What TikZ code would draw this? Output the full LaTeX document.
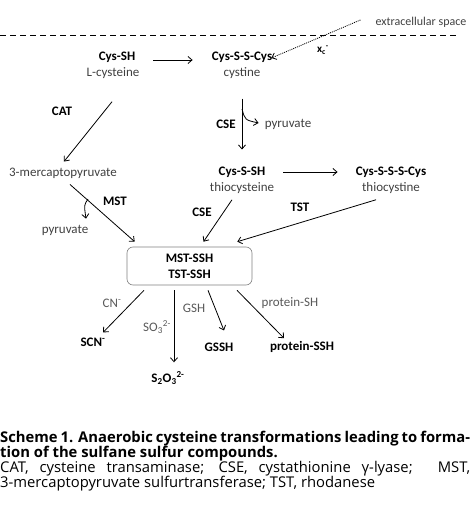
\documentclass[tikz,border=0pt]{standalone}
\usepackage{fontspec}
\setmainfont{Carlito}
\newfontfamily\capfont{Open Sans}
\usetikzlibrary{arrows.meta,calc}
\definecolor{txtgray}{HTML}{404040}
\definecolor{lblgray}{HTML}{595959}
\definecolor{boxgray}{HTML}{808080}
\begin{document}
\begin{tikzpicture}[x=1pt,y=-1pt,
  every node/.style={inner sep=0pt,font=\fontsize{13}{15}\selectfont},
  chem/.style={font=\fontsize{13}{15}\selectfont\bfseries,text=black},
  cname/.style={text=txtgray},
  enz/.style={font=\fontsize{13}{15}\selectfont\bfseries,text=black},
  lbl/.style={text=lblgray},
  arr/.style={-{Straight Barb[length=4pt,width=7pt]},line width=0.8pt,black},
  capline/.style={anchor=base west,font=\capfont\fontsize{14.8}{15}\selectfont,text=black}
]
\useasboundingbox (0,0) rectangle (472,524);

% membrane
\draw[line width=0.9pt,dash pattern=on 6pt off 4pt] (0,35) -- (458,35);
\node[cname,font=\fontsize{12}{14}\selectfont] (extra) at (421,22) {extracellular space};

% top row
\node[chem] (cyssh) at (117,57) {Cys-SH};
\node[cname] (lcys) at (113,73) {L-cysteine};
\node[chem] (cystine) at (242,57) {Cys-S-S-Cys};
\node[cname] (cystineb) at (242,73) {cystine};
\node[font=\fontsize{11}{12}\selectfont\bfseries] (xc) at (323,50) {x\textsubscript{c}\textsuperscript{-}};

% middle row
\node[cname] (mpyr) at (63,173) {3-mercaptopyruvate};
\node[chem] (cysssh) at (242,172) {Cys-S-SH};
\node[cname] (cyssshb) at (242,188) {thiocysteine};
\node[chem] (cysssc) at (391,172) {Cys-S-S-S-Cys};
\node[cname] (cyssscb) at (391,188) {thiocystine};
\node[cname] (pyr1) at (288,124) {pyruvate};
\node[cname] (pyr2) at (65,230) {pyruvate};

% enzyme labels
\node[enz] (cat) at (62,111) {CAT};
\node[enz] (cse1) at (226,124) {CSE};
\node[enz] (mst) at (115,201) {MST};
\node[enz] (cse2) at (202,212) {CSE};
\node[enz] (tst) at (300,207) {TST};

% box
\node[draw=boxgray,line width=0.6pt,rounded corners=6pt,minimum width=125pt,minimum height=38pt,
      align=center,text=black,font=\fontsize{13}{16}\selectfont\bfseries] (box) at (189.5,266) {MST-SSH\\TST-SSH};

% products
\node[chem] (scn) at (93,342) {SCN\textsuperscript{-}};
\node[chem] (s2o3) at (168,378) {S\textsubscript{2}O\textsubscript{3}\textsuperscript{2-}};
\node[chem] (gssh) at (219,347) {GSSH};
\node[chem] (protssh) at (302,347) {protein-SSH};
\node[lbl] (cn) at (112,303) {CN\textsuperscript{-}};
\node[lbl] (so3) at (157,327) {SO\textsubscript{3}\textsuperscript{2-}};
\node[lbl] (gsh) at (194,308) {GSH};
\node[lbl] (protsh) at (290,303) {protein-SH};

% connectors
\draw[arr] ($(cyssh.east)+(18,3)$) -- ($(cystine.west)+(-19,3)$);
\draw[-{Straight Barb[length=4pt,width=7pt]},line width=0.8pt,dash pattern=on 1pt off 1pt] ($(extra.west)+(-15,-2)$) -- ($(cystine.east)+(-1,1)$);
\draw[arr] ($(lcys.south)+(-1,23)$) -- ($(mpyr.north)+(1,-6)$);
\draw[arr] ($(cystineb.south)+(0,20)$) -- ($(cysssh.north)+(0,-17)$);
\draw[arr] (242,109) .. controls (245,120) .. ($(pyr1.west)+(-6,-1)$);
\draw[arr] ($(cysssh.east)+(18,0)$) -- ($(cysssc.west)+(-18,0)$);
\draw[arr] ($(mpyr.south)+(7,6)$) -- ($(box.north west)+(8,-5)$);
\draw[arr] (88,199) .. controls (84,205) .. ($(pyr2.north)+(21,-6)$);
\draw[arr] ($(cyssshb.south)+(-10,6)$) -- ($(box.north)+(14,-5)$);
\draw[arr] ($(cyssscb.south)+(-15,6)$) -- ($(box.north east)+(-15,-5)$);
\draw[arr] ($(box.south)+(-45.5,5)$) -- ($(scn.north)+(10,-5)$);
\draw[arr] ($(box.south)+(-15.5,5)$) -- ($(box.south)+(-15.5,77)$);
\draw[arr] ($(box.south)+(18.5,5)$) -- ($(gssh.north)+(5,-12)$);
\draw[arr] ($(box.south)+(47.5,5)$) -- ($(protssh.north)+(-18,-3)$);

% caption
\node[capline,font=\capfont\fontsize{14.8}{15}\selectfont\bfseries] (cap1) at (0,442) {\makebox[470pt][s]{Scheme 1. Anaerobic cysteine transformations leading to forma-}};
\node[capline,font=\capfont\fontsize{14.8}{15}\selectfont\bfseries] (cap2) at (0,457) {tion of the sulfane sulfur compounds.};
\node[capline] (cap3) at (0,472) {\makebox[470pt][s]{CAT, cysteine transaminase; CSE, cystathionine γ-lyase; \ MST,}};
\node[capline] (cap4) at (0,487) {3-mercaptopyruvate sulfurtransferase; TST, rhodanese};
\end{tikzpicture}
\end{document}
